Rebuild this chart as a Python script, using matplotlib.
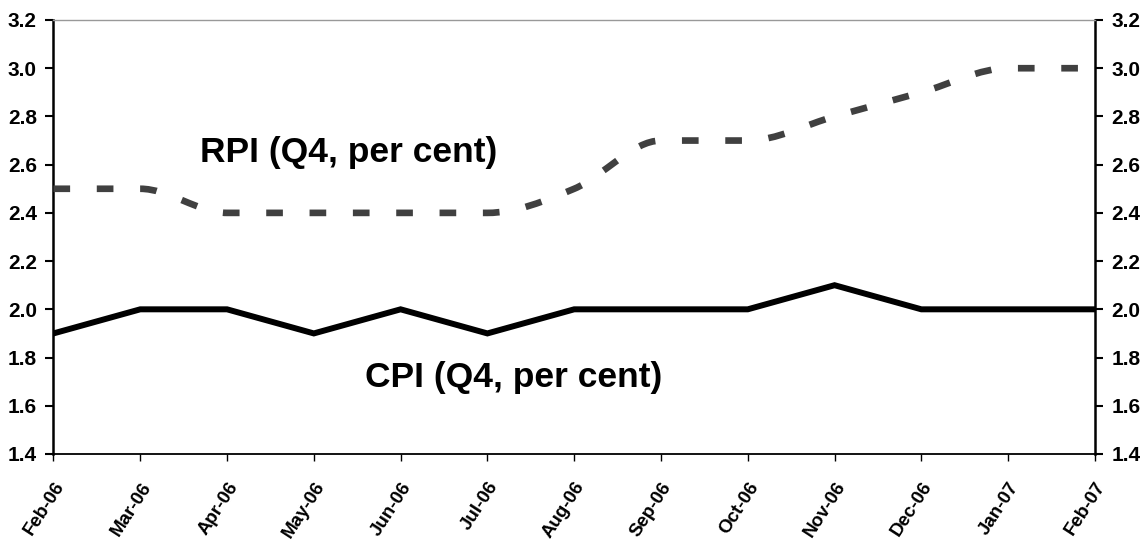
import numpy as np
import matplotlib
matplotlib.use("Agg")
from matplotlib import pyplot as plt
from matplotlib.path import Path
from matplotlib.patches import PathPatch

plt.rcParams['font.family'] = ['Liberation Sans', 'DejaVu Sans']
plt.rcParams['font.weight'] = 'bold'

# data
months = ['Feb-06', 'Mar-06', 'Apr-06', 'May-06', 'Jun-06', 'Jul-06', 'Aug-06',
          'Sep-06', 'Oct-06', 'Nov-06', 'Dec-06', 'Jan-07', 'Feb-07']
rpi = [2.5, 2.5, 2.4, 2.4, 2.4, 2.4, 2.5, 2.7, 2.7, 2.8, 2.9, 3.0, 3.0]
cpi = [1.9, 2.0, 2.0, 1.9, 2.0, 1.9, 2.0, 2.0, 2.0, 2.1, 2.0, 2.0, 2.0]
yticks = [1.4, 1.6, 1.8, 2.0, 2.2, 2.4, 2.6, 2.8, 3.0, 3.2]


def smooth_path(xs, ys):
    # smoothed line as bezier segments through every point,
    # flat tangent where the series turns or levels off
    xs = np.asarray(xs, float)
    ys = np.asarray(ys, float)
    d = np.diff(ys)
    m = np.zeros(len(ys))
    for i in range(1, len(ys) - 1):
        if d[i - 1] * d[i] > 0:
            m[i] = (d[i - 1] + d[i]) / 2.0
    verts = [(xs[0], ys[0])]
    codes = [Path.MOVETO]
    for i in range(len(ys) - 1):
        verts += [(xs[i] + 1 / 3, ys[i] + m[i] / 3),
                  (xs[i + 1] - 1 / 3, ys[i + 1] - m[i + 1] / 3),
                  (xs[i + 1], ys[i + 1])]
        codes += [Path.CURVE4] * 3
    return Path(verts, codes)


fig = plt.figure(figsize=(11.47, 5.42), dpi=100)
ax = fig.add_axes([0.0466, 0.1624, 0.908, 0.8007])

x = np.arange(len(months))

# RPI, dashed smoothed line
rpi_patch = PathPatch(smooth_path(x, rpi), fill=False, edgecolor='#404040',
                      linewidth=4.8, linestyle=(0, (2.5, 4.0)),
                      capstyle='butt', transform=ax.transData, zorder=3)
ax.add_patch(rpi_patch)
# CPI, solid
ax.plot(x, cpi, color='black', linewidth=4.3, solid_joinstyle='miter', zorder=3)

ax.set_xlim(0, len(months) - 1)
ax.set_ylim(1.4, 3.2)
ax.set_yticks(yticks)
ax.set_yticklabels(['%.1f' % v for v in yticks])
ax.set_xticks(x)
ax.set_xticklabels(months, rotation=57, ha='right', va='top',
                   rotation_mode='anchor')

ax.tick_params(axis='y', which='both', left=True, right=True, labelleft=True,
               labelright=True, direction='out', length=6, width=1.5,
               labelsize=15, pad=6)
ax.tick_params(axis='x', direction='out', length=5, width=1, labelsize=13.5, pad=13)

for side in ['left', 'right']:
    ax.spines[side].set_linewidth(1.8)
    ax.spines[side].set_color('black')
ax.spines['bottom'].set_linewidth(1.3)
ax.spines['top'].set_linewidth(1.0)
ax.spines['top'].set_color('#999999')

ax.text(1.69, 2.612, 'RPI (Q4, per cent)', fontsize=25.5, fontweight='bold')
ax.text(3.59, 1.677, 'CPI (Q4, per cent)', fontsize=25.5, fontweight='bold')

plt.savefig('out.png', dpi=100)
